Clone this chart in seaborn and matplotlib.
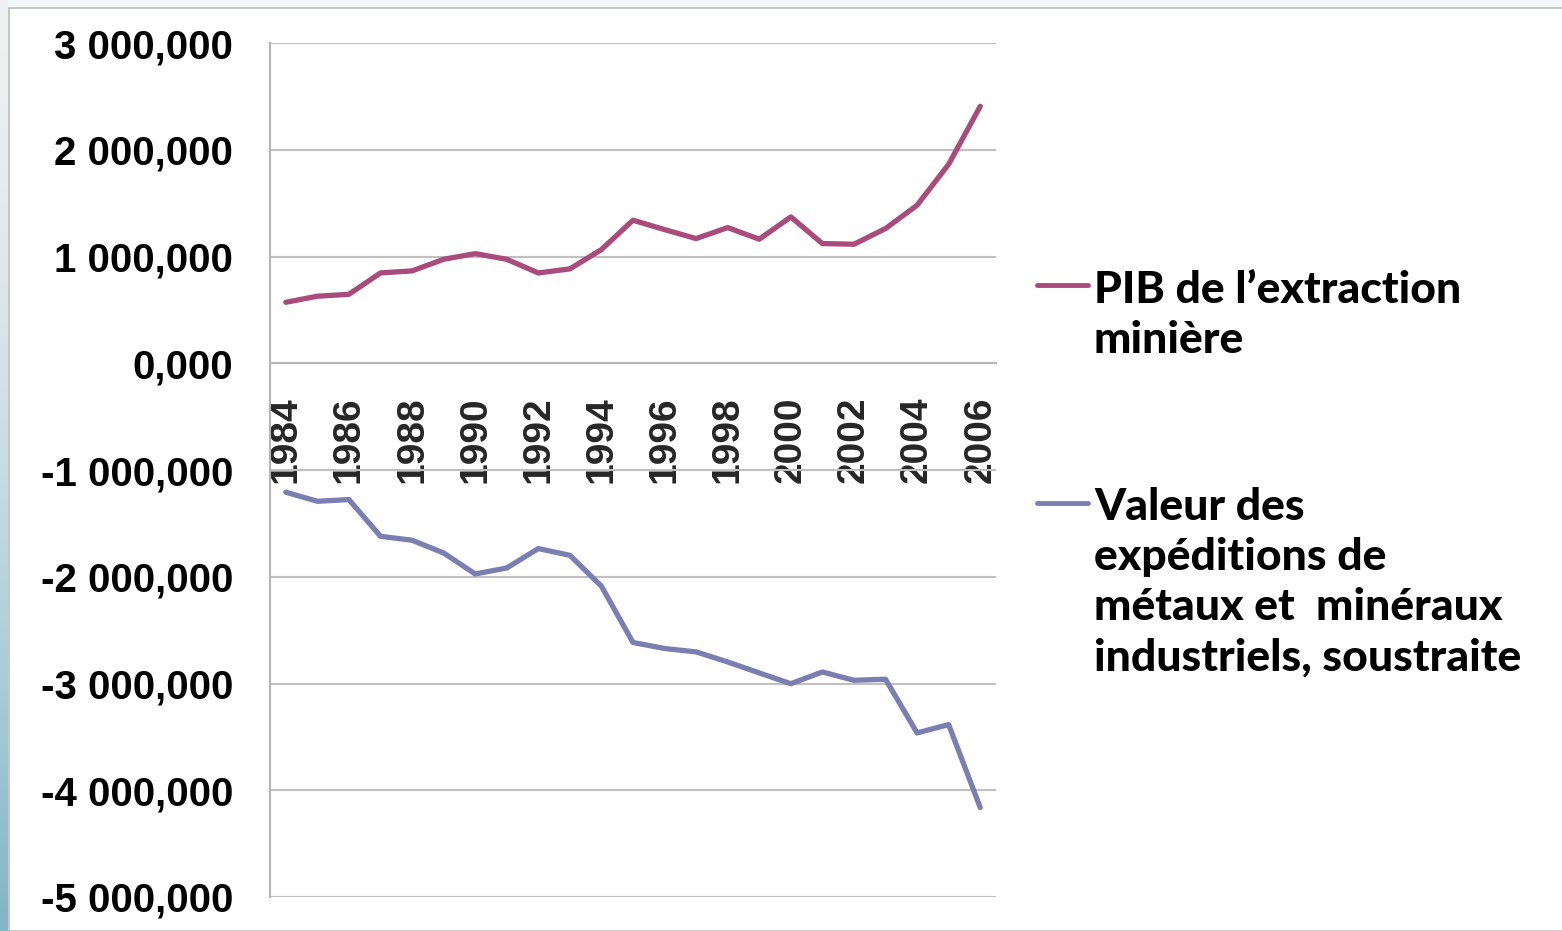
import matplotlib
matplotlib.use("Agg")
import matplotlib.pyplot as plt
import matplotlib.ticker as mticker
from matplotlib.lines import Line2D
from matplotlib.patches import Rectangle
import seaborn as sns
import pandas as pd
import numpy as np

# values in thousands, as in the source chart
years = list(range(1984, 2007))
pib = [571, 628, 646, 846, 865, 974, 1027, 974, 846, 884, 1065, 1340,
       1252, 1168, 1271, 1162, 1371, 1121, 1115, 1262, 1480, 1864, 2407]
valeur = [-1208, -1293, -1277, -1621, -1658, -1777, -1974, -1918, -1736, -1799, -2089, -2616,
          -2672, -2704, -2798, -2901, -3002, -2892, -2970, -2960, -3463, -3385, -4162]
series_names = ["PIB de l’extraction minière",
                "Valeur des expéditions de métaux et  minéraux industriels, soustraite"]
legend_lines = [["PIB de l’extraction", "minière"],
                ["Valeur des", "expéditions de", "métaux et  minéraux", "industriels, soustraite"]]
colors = ["#A94B7B", "#7B7EB1"]
year_labels = [str(y) for y in years[::2]]

df = pd.DataFrame({
    "annee": years * 2,
    "valeur": pib + valeur,
    "serie": [series_names[0]] * len(years) + [series_names[1]] * len(years),
})

sns.set_style("white")
plt.rcParams["font.family"] = ["Liberation Sans", "DejaVu Sans"]

W, H = 1562, 931
fig = plt.figure(figsize=(W / 100, H / 100), dpi=100)
fig.patch.set_facecolor("#F3F7F9")

# white panel with thin frame, plus the blue strip on the left
fig.add_artist(Rectangle((9 / W, 0), 1, 1 - 8 / H, transform=fig.transFigure,
                         facecolor="white", edgecolor="#BDBDBD", linewidth=1.2, zorder=0))
strip = fig.add_axes([0, 0, 8 / W, 1])
grad = np.linspace(0, 1, 256).reshape(-1, 1) ** 1.5
strip.imshow(grad, aspect="auto", cmap=sns.light_palette("#7FB6C8", as_cmap=True),
             origin="upper", extent=[0, 1, 0, 1])
strip.axis("off")

ax = fig.add_axes([270 / W, (H - 897) / H, 726 / W, (897 - 43) / H])
ax.set_facecolor("none")

sns.lineplot(data=df, x="annee", y="valeur", hue="serie", palette=colors,
             linewidth=3.8, legend=False, ax=ax, zorder=3)

ax.set_xlim(years[0] - 0.5, years[-1] + 0.5)
ax.set_ylim(-5000, 3000)
ax.yaxis.set_major_locator(mticker.MultipleLocator(1000))
ax.yaxis.set_major_formatter(mticker.FuncFormatter(
    lambda v, p: f"{v:,.3f}".replace(",", " ").replace(".", ",")))
ax.grid(axis="y", color="#C0C0C0", linewidth=1.5, zorder=1)
ax.grid(axis="x", visible=False)

for s in ["top", "right"]:
    ax.spines[s].set_visible(False)
ax.spines["left"].set_color("#B5B5B5")
ax.spines["left"].set_linewidth(1.5)
ax.spines["bottom"].set_position(("data", 0))
ax.spines["bottom"].set_color("#B5B5B5")
ax.spines["bottom"].set_linewidth(1.5)

ax.tick_params(axis="y", length=8.6, width=1.2, color="#B5B5B5", pad=18,
               labelsize=29, labelcolor="black")
for t in ax.get_yticklabels():
    t.set_fontweight("bold")

# tick marks at the category borders, labels every second year
ax.set_xticks([y - 0.5 for y in years] + [years[-1] + 0.5])
ax.set_xticklabels([])
ax.tick_params(axis="x", which="major", direction="out", length=8.6, width=1.2, color="#B5B5B5")
ax.set_xticks(years[::2], minor=True)
ax.set_xticklabels(year_labels, minor=True, rotation=90, fontsize=28, fontweight="bold")
ax.tick_params(axis="x", which="minor", length=0, pad=24)
ax.set_xlabel("")
ax.set_ylabel("")

# legend drawn at the right, one text line at a time
entries = [(285, [303, 353]), (503, [520, 570, 620, 671])]
for (ly, baselines), col, lines in zip(entries, colors, legend_lines):
    fig.add_artist(Line2D([1037 / W, 1088 / W], [1 - ly / H, 1 - ly / H],
                          transform=fig.transFigure, color=col, linewidth=3.5))
    for b, txt in zip(baselines, lines):
        fig.text(1094 / W, 1 - b / H, txt, fontsize=32, fontweight="black", color="black",
                 family=["Lato", "DejaVu Sans"], va="baseline", ha="left")

fig.savefig("out.png", dpi=100)
